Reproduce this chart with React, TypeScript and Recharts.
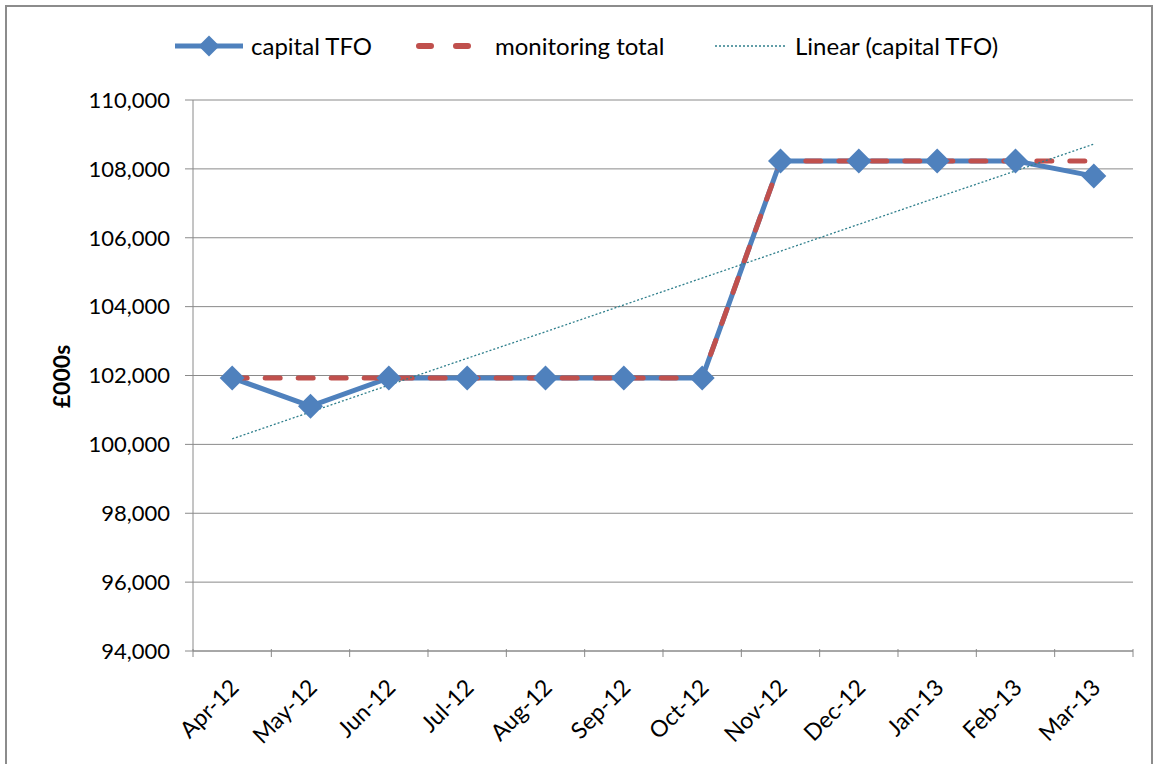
import { CartesianGrid, Label, Line, LineChart, XAxis, YAxis } from "recharts";

const months = ["Apr-12", "May-12", "Jun-12", "Jul-12", "Aug-12", "Sep-12", "Oct-12", "Nov-12", "Dec-12", "Jan-13", "Feb-13", "Mar-13"];
const capitalTfo = [101930, 101110, 101930, 101930, 101930, 101930, 101930, 108230, 108230, 108230, 108230, 107790];
const monitoringTotal = [101930, 101930, 101930, 101930, 101930, 101930, 101930, 108230, 108230, 108230, 108230, 108230];
const linearTrend = [100160, 100940, 101720, 102500, 103270, 104050, 104830, 105610, 106390, 107170, 107940, 108720];
const yTicks = [94000, 96000, 98000, 100000, 102000, 104000, 106000, 108000, 110000];

const data = months.map((m, i) => ({
  month: m,
  capital: capitalTfo[i],
  monitoring: monitoringTotal[i],
  trend: linearTrend[i],
}));

const BLUE = "#4F81BD";
const RED = "#C0504D";
const TEAL = "#2F7F8C";
const GRID = "#8a8a8a";
const FONT = "Lato, 'Open Sans', sans-serif";
const HALF_BAND = 39.17;

function Diamond({ cx, cy }: any) {
  if (cx == null || cy == null) return null;
  const r = 12.5;
  return <path d={`M${cx},${cy - r} L${cx + r},${cy} L${cx},${cy + r} L${cx - r},${cy} Z`} fill={BLUE} />;
}

function MonthTick({ x, y, payload, index }: any) {
  const last = index === months.length - 1;
  const ax = x + 8;
  const ay = y + 32;
  return (
    <g>
      <line x1={x - HALF_BAND} x2={x - HALF_BAND} y1={y - 8} y2={y} stroke={GRID} />
      {last && <line x1={x + HALF_BAND} x2={x + HALF_BAND} y1={y - 8} y2={y} stroke={GRID} />}
      <text
        x={ax}
        y={ay}
        transform={`rotate(-45 ${ax} ${ay})`}
        textAnchor="end"
        fontSize={23}
        fontFamily={FONT}
        fill="#000"
      >
        {payload.value}
      </text>
    </g>
  );
}

function YTitle({ viewBox }: any) {
  const cy = viewBox.y + viewBox.height / 2 + 1;
  const cx = 61;
  return (
    <text
      x={cx}
      y={cy}
      transform={`rotate(-90 ${cx} ${cy})`}
      textAnchor="middle"
      dominantBaseline="central"
      fontSize={23}
      fontWeight="bold"
      fontFamily={FONT}
      fill="#000"
    >
      £000s
    </text>
  );
}

function LegendRow() {
  const text = { fontFamily: FONT, fontSize: 24, color: "#000", position: "absolute" as const, top: 31, lineHeight: "30px", whiteSpace: "nowrap" as const };
  return (
    <div style={{ position: "absolute", left: 0, top: 0, width: 1158, height: 80, pointerEvents: "none" }}>
      <svg width={1158} height={80} style={{ position: "absolute", left: 0, top: 0 }}>
        <line x1={175} x2={243} y1={46} y2={46} stroke={BLUE} strokeWidth={5} />
        <path d="M209,35.5 L219.5,46 L209,56.5 L198.5,46 Z" fill={BLUE} />
        <line x1={419} x2={469} y1={46} y2={46} stroke={RED} strokeWidth={6} strokeDasharray="12 25" strokeLinecap="round" />
        <line x1={715} x2={785} y1={46} y2={46} stroke={TEAL} strokeWidth={1.3} strokeDasharray="2 2" />
      </svg>
      <span style={{ ...text, left: 251 }}>capital TFO</span>
      <span style={{ ...text, left: 495 }}>monitoring total</span>
      <span style={{ ...text, left: 795 }}>Linear (capital TFO)</span>
    </div>
  );
}

export default function App() {
  return (
    <div style={{ position: "absolute", left: 0, top: 0, width: 1158, height: 764, background: "#fff", overflow: "hidden" }}>
      <div style={{ position: "absolute", left: 5, top: 5, width: 1144, height: 770, border: "2px solid #8c8c8c" }} />
      <LineChart width={1158} height={764} data={data} margin={{ top: 100, right: 25, bottom: 0, left: 0 }}>
        <CartesianGrid vertical={false} stroke={GRID} strokeWidth={1} />
        <XAxis
          dataKey="month"
          height={113}
          padding={{ left: HALF_BAND, right: HALF_BAND }}
          axisLine={{ stroke: GRID }}
          tickLine={false}
          tick={<MonthTick />}
          interval={0}
          tickMargin={0}
        />
        <YAxis
          width={193}
          domain={[94000, 110000]}
          ticks={yTicks}
          allowDataOverflow
          axisLine={{ stroke: GRID }}
          tickLine={{ stroke: GRID }}
          tickSize={8}
          tickMargin={15}
          tickFormatter={(v: number) => v.toLocaleString("en-US")}
          tick={{ fontSize: 22, fontFamily: FONT, fill: "#000" }}
        >
          <Label content={<YTitle />} />
        </YAxis>
        <Line
          dataKey="capital"
          stroke={BLUE}
          strokeWidth={5}
          dot={<Diamond />}
          activeDot={false}
          isAnimationActive={false}
        />
        <Line
          dataKey="monitoring"
          stroke={RED}
          strokeWidth={5}
          strokeDasharray="15 18"
          strokeLinecap="round"
          dot={false}
          activeDot={false}
          isAnimationActive={false}
        />
        <Line
          dataKey="trend"
          stroke={TEAL}
          strokeWidth={1.3}
          strokeDasharray="2 2"
          dot={false}
          activeDot={false}
          isAnimationActive={false}
        />
      </LineChart>
      <LegendRow />
    </div>
  );
}
